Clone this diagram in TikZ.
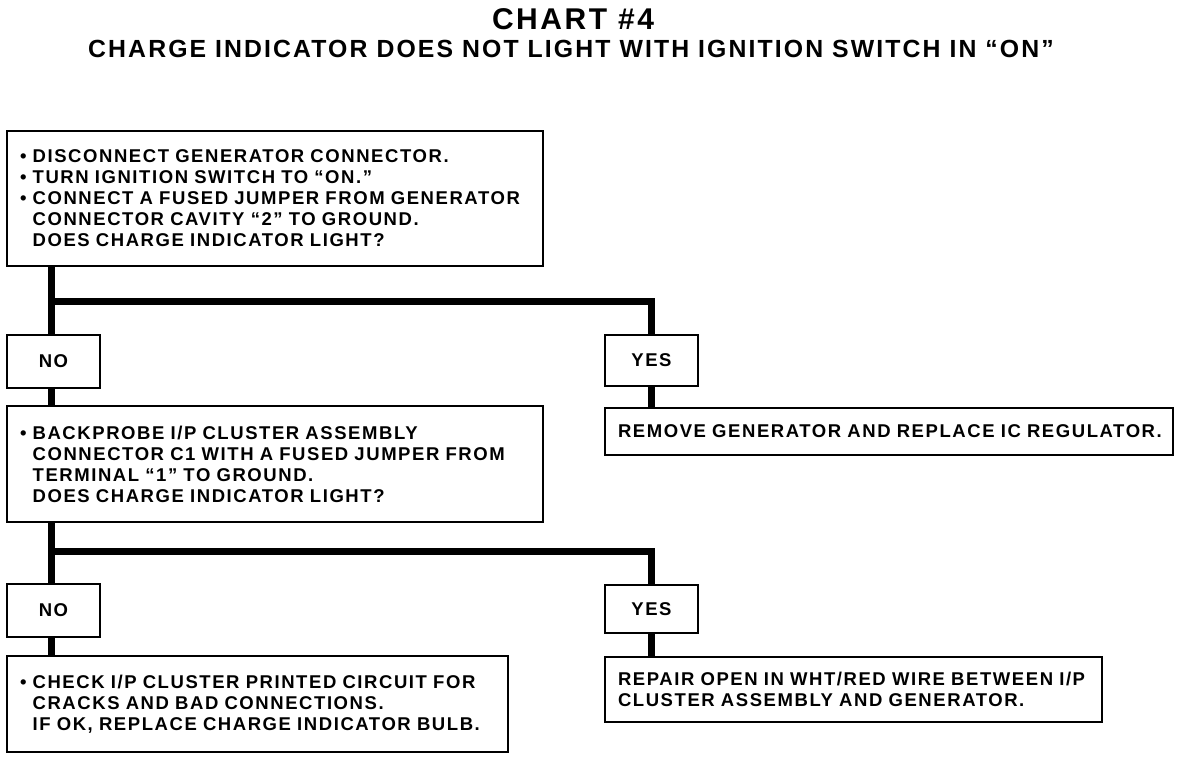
\documentclass[tikz,border=0pt]{standalone}
\usepackage{fontspec}
\setmainfont{Liberation Sans}[LetterSpace=8.5]
\usetikzlibrary{calc}

\begin{document}
\begin{tikzpicture}[x=1pt,y=-1pt,
  chartbox/.style={draw, line width=2.6pt, fill=white, anchor=north west, outer sep=0pt,
    inner xsep=13pt, inner ysep=0pt, align=left, font=\fontsize{18.5}{21}\selectfont\bfseries},
  answerbox/.style={draw, line width=2.6pt, fill=white, anchor=north west, outer sep=0pt,
    minimum width=93pt, inner sep=0pt, font=\fontsize{18.5}{21}\selectfont\bfseries},
  wire/.style={line width=7pt}]
\useasboundingbox (0,0) rectangle (1184,760);
\node[font=\fontsize{30}{36}\selectfont\bfseries, anchor=base] (chart) at (573,30) {CHART \#4};
\node[font=\fontsize{24.8}{30}\selectfont\bfseries, anchor=base] (heading) at (571,58)
  {CHARGE INDICATOR DOES NOT LIGHT WITH IGNITION SWITCH IN “ON”};

\node[chartbox, text width=510pt, minimum height=135pt] (qone) at (7,131) {
\textbullet\ DISCONNECT GENERATOR CONNECTOR.\\
\textbullet\ TURN IGNITION SWITCH TO “ON.”\\
\textbullet\ CONNECT A FUSED JUMPER FROM GENERATOR\\
\hphantom{\textbullet\ }CONNECTOR CAVITY “2” TO GROUND.\\
\hphantom{\textbullet\ }DOES CHARGE INDICATOR LIGHT?};
\node[answerbox, minimum height=53pt] (no1) at (7,335) {NO};
\node[answerbox, minimum height=51pt] (yes1) at (605,335) {YES};
\node[chartbox, text width=510pt, minimum height=116pt] (qtwo) at (7,406) {
\textbullet\ BACKPROBE I/P CLUSTER ASSEMBLY\\
\hphantom{\textbullet\ }CONNECTOR C1 WITH A FUSED JUMPER FROM\\
\hphantom{\textbullet\ }TERMINAL “1” TO GROUND.\\
\hphantom{\textbullet\ }DOES CHARGE INDICATOR LIGHT?};
\node[chartbox, text width=542pt, minimum height=47pt] (remove) at (605,408)
  {REMOVE GENERATOR AND REPLACE IC REGULATOR.};
\node[answerbox, minimum height=53pt] (no2) at (7,584) {NO};
\node[answerbox, minimum height=48pt] (yes2) at (605,585) {YES};
\node[chartbox, text width=475pt, minimum height=96pt] (check) at (7,656) {
\textbullet\ CHECK I/P CLUSTER PRINTED CIRCUIT FOR\\
\hphantom{\textbullet\ }CRACKS AND BAD CONNECTIONS.\\
\hphantom{\textbullet\ }IF OK, REPLACE CHARGE INDICATOR BULB.};
\node[chartbox, text width=471pt, minimum height=65pt] (repair) at (605,657) {
REPAIR OPEN IN WHT/RED WIRE BETWEEN I/P\\
CLUSTER ASSEMBLY AND GENERATOR.};

\coordinate (fork1) at (51,301);
\coordinate (fork2) at (51,551);
\draw[wire] (qone.south -| fork1) -- (no1.north -| fork1);
\draw[wire] (fork1) -| (yes1.north);
\draw[wire] (no1.south -| fork1) -- (qtwo.north -| fork1);
\draw[wire] (yes1.south) -- (yes1.south |- remove.north);
\draw[wire] (qtwo.south -| fork2) -- (no2.north -| fork2);
\draw[wire] (fork2) -| (yes2.north);
\draw[wire] (no2.south -| fork2) -- (check.north -| fork2);
\draw[wire] (yes2.south) -- (yes2.south |- repair.north);
\end{tikzpicture}
\end{document}
